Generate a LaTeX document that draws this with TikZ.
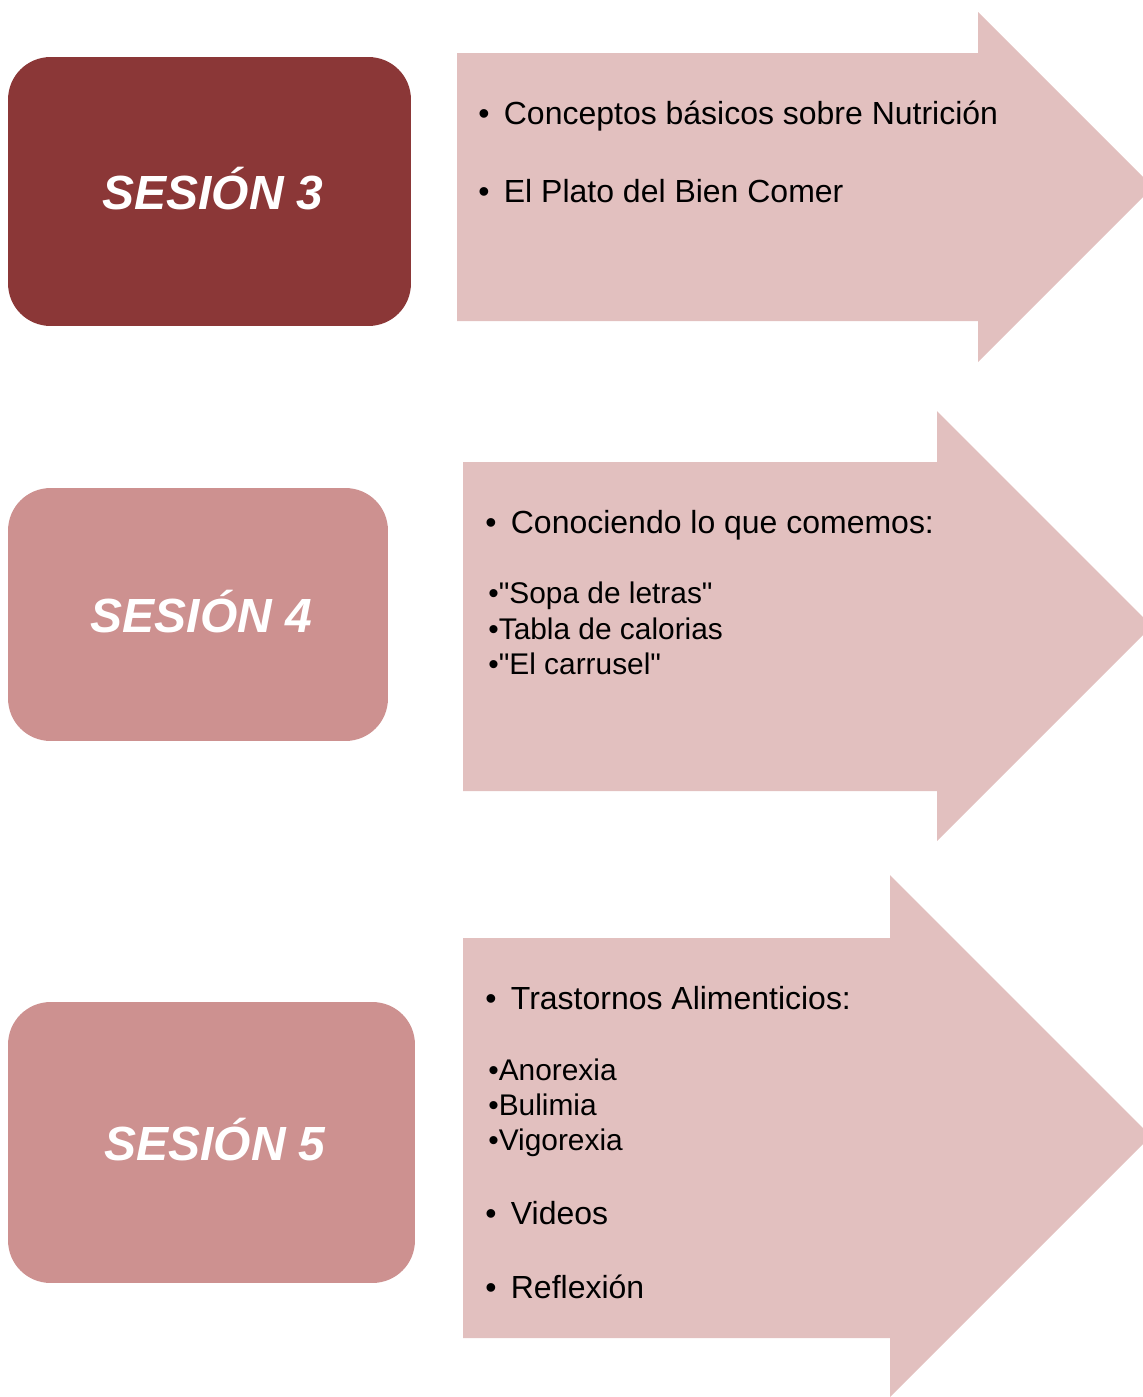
\documentclass[tikz,border=0pt]{standalone}
\usepackage{fontspec}
\setmainfont{Liberation Sans}[Ligatures=TeXOff]
\usetikzlibrary{positioning}

\definecolor{sesdark}{RGB}{139,55,55}
\definecolor{sesmid}{RGB}{205,145,144}
\definecolor{arrowpink}{RGB}{226,192,191}

\newcommand{\mainbul}{\textbullet\hspace{0.45em}}
\newcommand{\sestitle}[1]{\raisebox{0.12cm}{\hspace{0.14cm}#1}}

\begin{document}
\begin{tikzpicture}[x=0.02cm, y=-0.02cm,
  sesbox/.style={rounded corners=0.85cm, inner sep=0pt, text=white, font=\fontsize{27.3}{32}\selectfont\bfseries\itshape},
  mainline/.style={anchor=base west, inner sep=0pt, font=\fontsize{18.2}{22}\selectfont},
  subline/.style={anchor=base west, inner sep=0pt, font=\fontsize{17}{20}\selectfont}]
\useasboundingbox (0,0) rectangle (1143,1397);

% session 3
\node[sesbox, fill=sesdark, minimum width=8.06cm, minimum height=5.38cm] (s3) at (209.5,191.5) {\sestitle{SESIÓN 3}};
\fill[arrowpink] (457,53) -- (978,53) -- (978,12) -- (1153,187) -- (978,362) -- (978,321) -- (457,321) -- cycle;
\node[mainline] (t3a) at (478,124) {\mainbul Conceptos básicos sobre Nutrición};
\node[mainline] (t3b) at (478,202) {\mainbul El Plato del Bien Comer};

% session 4
\node[sesbox, fill=sesmid, minimum width=7.6cm, minimum height=5.06cm] (s4) at (198,614.5) {\sestitle{SESIÓN 4}};
\fill[arrowpink] (463,462) -- (937,462) -- (937,411) -- (1152,626) -- (937,841) -- (937,791) -- (463,791) -- cycle;
\node[mainline] (t4a) at (485,533) {\mainbul Conociendo lo que comemos:};
\node[subline] (t4b) at (488,603) {\textbullet"Sopa de letras"};
\node[subline] (t4c) at (488,639) {\textbullet Tabla de calorias};
\node[subline] (t4d) at (488,674) {\textbullet"El carrusel"};

% session 5
\node[sesbox, fill=sesmid, minimum width=8.14cm, minimum height=5.62cm] (s5) at (211.5,1142.5) {\sestitle{SESIÓN 5}};
\fill[arrowpink] (463,938) -- (890,938) -- (890,875) -- (1151,1136) -- (890,1397) -- (890,1338) -- (463,1338) -- cycle;
\node[mainline] (t5a) at (485,1009) {\mainbul Trastornos Alimenticios:};
\node[subline] (t5b) at (488,1080) {\textbullet Anorexia};
\node[subline] (t5c) at (488,1115) {\textbullet Bulimia};
\node[subline] (t5d) at (488,1150) {\textbullet Vigorexia};
\node[mainline] (t5e) at (485,1224) {\mainbul Videos};
\node[mainline] (t5f) at (485,1298) {\mainbul Reflexión};
\end{tikzpicture}
\end{document}
